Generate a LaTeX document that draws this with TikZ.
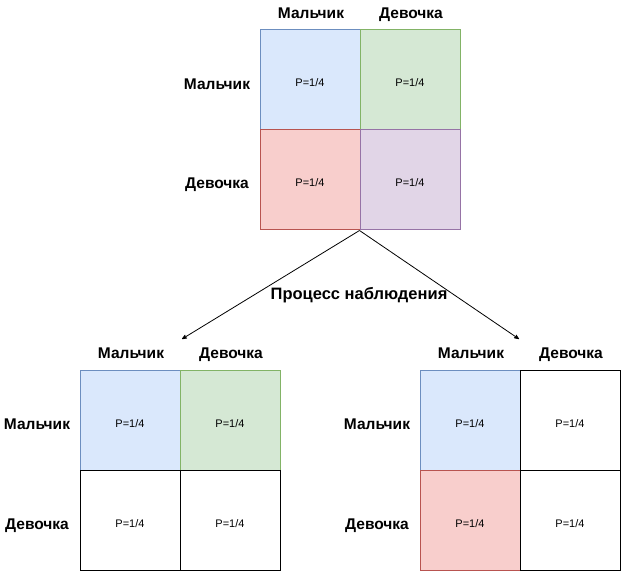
\documentclass[tikz,border=0pt]{standalone}
\usepackage{fontspec}
\setmainfont{Liberation Sans}
\usetikzlibrary{arrows}
\definecolor{blueFill}{HTML}{DAE8FC}
\definecolor{blueLine}{HTML}{6C8EBF}
\definecolor{greenFill}{HTML}{D5E8D4}
\definecolor{greenLine}{HTML}{82B366}
\definecolor{redFill}{HTML}{F8CECC}
\definecolor{redLine}{HTML}{B85450}
\definecolor{purpleFill}{HTML}{E1D5E7}
\definecolor{purpleLine}{HTML}{9673A6}
\begin{document}
\begin{tikzpicture}[x=1pt,y=-1pt]

\tikzset{cell/.style = {shape=rectangle,draw,fill=white,minimum size=100pt,inner sep=0pt,line width=1pt,text height=14pt,text depth=0pt,font=\fontsize{11}{13}\selectfont}}
\tikzset{head/.style = {inner sep=0pt,text depth=0pt,font=\fontsize{15.5}{18}\selectfont\bfseries}}
\tikzset{edge/.style = {->,> = stealth',line width=0.8pt}}
\useasboundingbox (0,0) rectangle (621,572);
%top grid
\node[cell, fill=blueFill, draw=blueLine] (t11) at (310,80) {P=1/4};
\node[cell, fill=greenFill, draw=greenLine] (t12) at (410,80) {P=1/4};
\node[cell, fill=redFill, draw=redLine] (t21) at (310,180) {P=1/4};
\node[cell, fill=purpleFill, draw=purpleLine] (t22) at (410,180) {P=1/4};
\node[head] (tc1) at (311,13) {Мальчик};
\node[head] (tc2) at (411,13) {Девочка};
\node[head] (tr1) at (217,84) {Мальчик};
\node[head] (tr2) at (217,183) {Девочка};
%left grid
\node[cell, fill=blueFill, draw=blueLine] (l11) at (130,420) {P=1/4};
\node[cell, fill=greenFill, draw=greenLine] (l12) at (230,420) {P=1/4};
\node[cell] (l21) at (130,520) {P=1/4};
\node[cell] (l22) at (230,520) {P=1/4};
\node[head] (lc1) at (131,353) {Мальчик};
\node[head] (lc2) at (231,353) {Девочка};
\node[head] (lr1) at (37,424) {Мальчик};
\node[head] (lr2) at (37,524) {Девочка};
%right grid
\node[cell, fill=blueFill, draw=blueLine] (r11) at (470,420) {P=1/4};
\node[cell] (r12) at (570,420) {P=1/4};
\node[cell, fill=redFill, draw=redLine] (r21) at (470,520) {P=1/4};
\node[cell] (r22) at (570,520) {P=1/4};
\node[head] (rc1) at (471,353) {Мальчик};
\node[head] (rc2) at (571,353) {Девочка};
\node[head] (rr1) at (377,424) {Мальчик};
\node[head] (rr2) at (377,524) {Девочка};
%edges
\coordinate (lend) at (182,339);
\coordinate (rend) at (519,339);
\draw [edge] (t22.south west) -- (lend);
\draw [edge] (t22.south west) -- (rend);
\node[head, font=\fontsize{16.5}{19}\selectfont\bfseries] (obs) at (359,293) {Процесс наблюдения};

\end{tikzpicture}
\end{document}
